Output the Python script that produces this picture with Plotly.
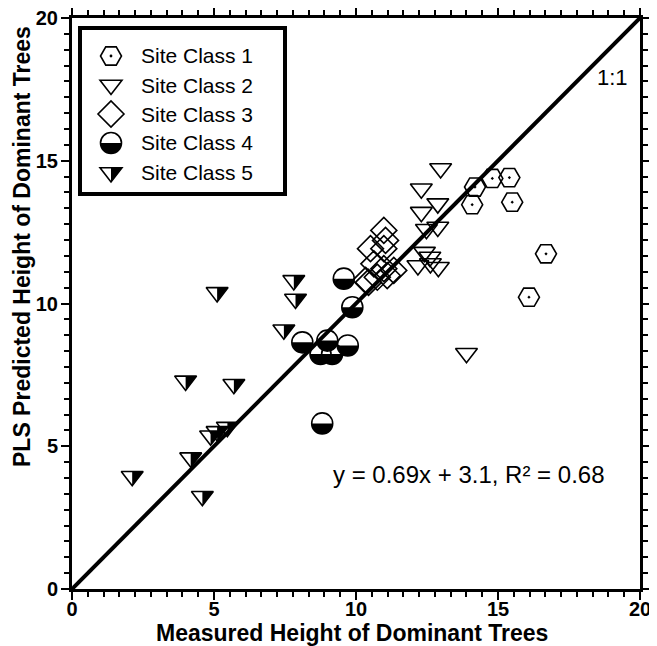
import math
import plotly.graph_objects as go

# ---------------- data ----------------
site1_x = [14.19, 14.80, 15.40, 14.09, 15.50, 16.69, 16.09]
site1_y = [14.08, 14.38, 14.41, 13.46, 13.55, 11.74, 10.22]

site2_x = [12.98, 12.30, 12.88, 12.30, 12.88, 12.48, 12.41, 12.60, 12.62, 12.18, 12.90, 13.89]
site2_y = [14.73, 14.02, 13.50, 13.20, 12.68, 12.60, 11.80, 11.63, 11.40, 11.33, 11.27, 8.26]

site3_x = [10.98, 11.04, 10.51, 10.98, 10.63, 11.33, 10.98, 10.34, 10.75, 11.10, 10.44]
site3_y = [12.56, 12.21, 11.92, 11.92, 11.39, 11.16, 11.22, 10.81, 10.92, 10.98, 10.74]

site4_x = [9.57, 9.87, 8.11, 8.99, 9.71, 8.75, 9.16, 8.81]
site4_y = [10.87, 9.87, 8.64, 8.70, 8.53, 8.23, 8.23, 5.80]

site5_x = [5.11, 7.81, 7.87, 7.46, 4.00, 5.70, 5.47, 5.11, 4.88, 4.18, 2.12, 4.59]
site5_y = [10.39, 10.81, 10.16, 9.08, 7.29, 7.17, 5.67, 5.52, 5.37, 4.60, 3.95, 3.25]

one_to_one = [0, 20]
class_names = ["Site Class 1", "Site Class 2", "Site Class 3", "Site Class 4", "Site Class 5"]
x_ticks = [0, 5, 10, 15, 20]
y_ticks = [0, 5, 10, 15, 20]
equation_text = "y = 0.69x + 3.1, R\u00b2 = 0.68"
line_label = "1:1"

# ---------------- styling ----------------
FONT = "Liberation Sans, Arial, sans-serif"
LW = 1.6
K = 0.5523


def circle_path(r):
    k = K * r
    return (f"M{-r},0 C{-r},{k} {-k},{r} 0,{r} C{k},{r} {r},{k} {r},0 "
            f"C{r},{-k} {k},{-r} 0,{-r} C{-k},{-r} {-r},{-k} {-r},0 Z")


def half_circle_bottom(r):
    k = K * r
    return f"M{-r},0 C{-r},{-k} {-k},{-r} 0,{-r} C{k},{-r} {r},{-k} {r},0 Z"


def tri_down(r):
    rt = r * 2 / math.sqrt(3)
    return f"M{-rt},{r/2} L{rt},{r/2} L0,{-r} Z"


def tri_down_right_half(r):
    rt = r * 2 / math.sqrt(3)
    return f"M0,{r/2} L{rt},{r/2} L0,{-r} Z"


def hexagon2(r):
    rt = r * math.sqrt(3) / 2
    return f"M{-r/2},{rt} L{r/2},{rt} L{r},0 L{r/2},{-rt} L{-r/2},{-rt} L{-r},0 Z"


def diamond(r):
    rd = r * 1.3
    return f"M{rd},0 L0,{rd} L{-rd},0 L0,{-rd} Z"


SIZES = [21, 19, 20, 21, 19]
SYMBOLS = ["hexagon2-open-dot", "triangle-down-open", "diamond-open", "circle-open", "triangle-down-open"]
XS = [site1_x, site2_x, site3_x, site4_x, site5_x]
YS = [site1_y, site2_y, site3_y, site4_y, site5_y]

fig = go.Figure()

fig.add_trace(go.Scatter(x=one_to_one, y=one_to_one, mode="lines",
                         line=dict(color="black", width=4), showlegend=False,
                         hoverinfo="skip"))

for name, xs, ys, sym, sz in zip(class_names, XS, YS, SYMBOLS, SIZES):
    fig.add_trace(go.Scatter(x=xs, y=ys, mode="markers", name=name, showlegend=False,
                             marker=dict(symbol=sym, size=sz, color="black",
                                         line=dict(color="black", width=LW))))

shapes = []

# half fills for site class 4 (bottom half of circle) and 5 (right half of triangle)
for xv, yv in zip(site4_x, site4_y):
    shapes.append(dict(type="path", xref="x", yref="y", xsizemode="pixel", ysizemode="pixel",
                       xanchor=xv, yanchor=yv, path=half_circle_bottom(SIZES[3] / 2),
                       fillcolor="black", line=dict(width=0)))
for xv, yv in zip(site5_x, site5_y):
    shapes.append(dict(type="path", xref="x", yref="y", xsizemode="pixel", ysizemode="pixel",
                       xanchor=xv, yanchor=yv, path=tri_down_right_half(SIZES[4] / 2),
                       fillcolor="black", line=dict(width=0)))

# ---------------- layout geometry (page has an 8px body margin) ----------------
OFF = 8
W, H = 649, 638
PL, PT = 64, 10
PW, PH = 568, 571
PR = W - PL - PW
PB = H - PT - PH


def px2paper_x(px):
    return (px - OFF - PL) / PW


def px2paper_y(py):
    return (PT + PH - (py - OFF)) / PH


shapes.append(dict(type="rect", xref="paper", yref="paper",
                   x0=px2paper_x(80), x1=px2paper_x(285),
                   y0=px2paper_y(194), y1=px2paper_y(28),
                   line=dict(color="black", width=4), fillcolor="white", layer="above"))

row_y = [56, 85, 114, 143, 172.5]
sym_x = px2paper_x(111)
legend_paths = [
    [(hexagon2(10.5), False)],
    [(tri_down(9.5), False)],
    [(diamond(10), False)],
    [(circle_path(10.5), False), (half_circle_bottom(10.5), True)],
    [(tri_down(9.5), False), (tri_down_right_half(9.5), True)],
]
annotations = []
for i, (name, ry) in enumerate(zip(class_names, row_y)):
    yy = px2paper_y(ry)
    for p, filled in legend_paths[i]:
        shapes.append(dict(type="path", xref="paper", yref="paper", xsizemode="pixel",
                           ysizemode="pixel", xanchor=sym_x, yanchor=yy, path=p,
                           fillcolor="black" if filled else "rgba(0,0,0,0)",
                           line=dict(color="black", width=0 if filled else LW)))
    if i == 0:
        shapes.append(dict(type="circle", xref="paper", yref="paper", xsizemode="pixel",
                           ysizemode="pixel", xanchor=sym_x, yanchor=yy,
                           x0=-1.4, x1=1.4, y0=-1.4, y1=1.4,
                           fillcolor="black", line=dict(width=0)))
    annotations.append(dict(text=name, xref="paper", yref="paper", x=px2paper_x(139),
                            y=yy, xanchor="left", yanchor="middle", showarrow=False,
                            font=dict(family=FONT, size=21, color="black")))

annotations.append(dict(text=equation_text, xref="paper", yref="paper",
                        x=px2paper_x(469), y=px2paper_y(474), xanchor="center",
                        yanchor="middle", showarrow=False,
                        font=dict(family=FONT, size=24, color="black")))
annotations.append(dict(text=line_label, xref="paper", yref="paper",
                        x=px2paper_x(612), y=px2paper_y(77), xanchor="center",
                        yanchor="middle", showarrow=False,
                        font=dict(family=FONT, size=22, color="black")))
annotations.append(dict(text="Measured Height of Dominant Trees", xref="paper", yref="paper",
                        x=px2paper_x(352), y=px2paper_y(633), xanchor="center",
                        yanchor="middle", showarrow=False,
                        font=dict(family=FONT, size=23, color="black", weight="bold")))
annotations.append(dict(text="PLS Predicted Height of Dominant Trees", xref="paper",
                        yref="paper", x=px2paper_x(22), y=px2paper_y(247), xanchor="center",
                        yanchor="middle", showarrow=False, textangle=-90,
                        font=dict(family=FONT, size=23, color="black", weight="bold")))

axis_common = dict(range=[0, 20], showgrid=False, zeroline=False, showline=True,
                   linecolor="black", linewidth=3, mirror="allticks", ticks="outside",
                   ticklen=8, tickwidth=2, tickcolor="black", automargin=False,
                   ticklabeloverflow="allow",
                   tickfont=dict(family=FONT, size=20, color="black", weight="bold"),
                   minor=dict(ticks="outside", dtick=5 / 9, tick0=0, ticklen=5,
                              tickwidth=2, tickcolor="black", showgrid=False),
                   fixedrange=True)

fig.update_layout(
    width=W, height=H,
    margin=dict(l=PL, r=PR, t=PT, b=PB, pad=0, autoexpand=False),
    paper_bgcolor="white", plot_bgcolor="white",
    xaxis=dict(tickvals=x_ticks, ticktext=[str(v) for v in x_ticks],
               ticklabelstandoff=-8, **axis_common),
    yaxis=dict(tickvals=y_ticks, ticktext=[str(v) for v in y_ticks],
               ticklabelstandoff=-1, **axis_common),
    shapes=shapes, annotations=annotations, showlegend=False,
)

fig.write_html("out.html")
